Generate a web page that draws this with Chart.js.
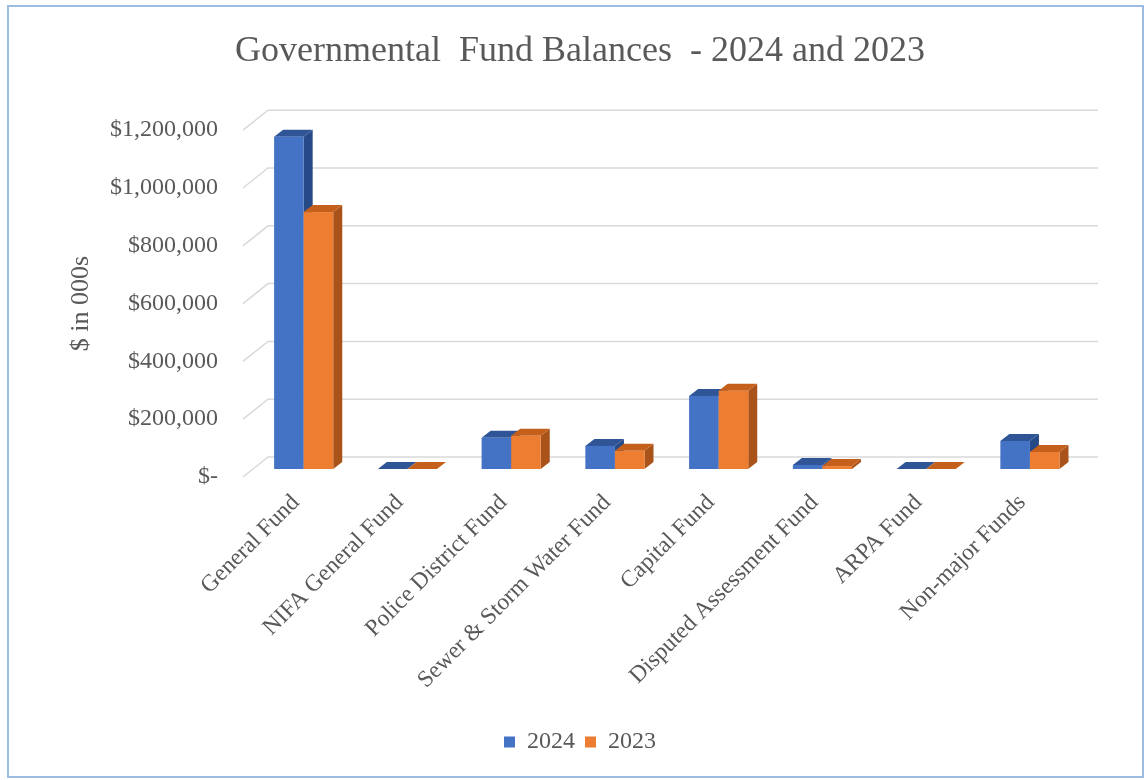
<!DOCTYPE html>
<html>
<head>
<meta charset="utf-8">
<script src="https://cdn.jsdelivr.net/npm/chart.js@4.4.1/dist/chart.umd.min.js"></script>
<style>
  body { margin: 0; background: #fff; }
  #wrap { position: relative; width: 1146px; height: 780px; }
  #frame {
    position: absolute; left: 7px; top: 5px; width: 1137px; height: 773px;
    box-sizing: border-box; border: 2px solid #9dbbe3; pointer-events: none;
  }
</style>
</head>
<body>
<div id="wrap">
  <canvas id="fundChart" width="1146" height="780"></canvas>
  <div id="frame"></div>
</div>
<script>
// chart data ($ in 000s)
const funds = [
    "General Fund",
    "NIFA General Fund",
    "Police District Fund",
    "Sewer & Storm Water Fund",
    "Capital Fund",
    "Disputed Assessment Fund",
    "ARPA Fund",
    "Non-major Funds",
];
const balances2024 = [1150000, 0, 108000, 80000, 253000, 14000, 0, 97000];
const balances2023 = [889000, 0, 115000, 63000, 271000, 10000, 0, 59000];
const yTicks = [0, 200000, 400000, 600000, 800000, 1000000, 1200000];

const textColor = "#595959";
const serif = "'Liberation Serif', 'Times New Roman', serif";

// colours for each face of the 3d bars
const faces = [
    { front: "#4472c4", top: "#2f5597", side: "#264a87" },
    { front: "#ed7d31", top: "#c5601c", side: "#a9531b" },
];

// offsets for the fake 3d look
const wallShift = { x: 27, y: -20 };
const barShift = { x: 10.8, y: -8 };
const barDepth = { x: 9, y: -7 };

const gridWall = {
    id: "gridWall",
    beforeDatasetsDraw(chart) {
        const ctx = chart.ctx;
        const area = chart.chartArea;
        const yScale = chart.scales.y;
        ctx.save();
        ctx.strokeStyle = "#d9d9d9";
        ctx.lineWidth = 1.5;
        yTicks.forEach(function (v) {
            const y = yScale.getPixelForValue(v);
            ctx.beginPath();
            ctx.moveTo(area.left + 2, y);
            ctx.lineTo(area.left + wallShift.x, y + wallShift.y);
            ctx.lineTo(area.right + wallShift.x, y + wallShift.y);
            ctx.stroke();
        });
        ctx.restore();
    },
    beforeDatasetDraw() {
        return false;
    },
    afterDatasetsDraw(chart) {
        const ctx = chart.ctx;
        const metas = chart.data.datasets.map(function (ds, i) {
            return chart.getDatasetMeta(i);
        });
        ctx.save();
        for (let i = 0; i < funds.length; i++) {
            metas.forEach(function (meta, d) {
                const bar = meta.data[i];
                const c = faces[d];
                const x0 = bar.x - bar.width / 2 + barShift.x;
                const x1 = bar.x + bar.width / 2 + barShift.x;
                const yTop = bar.y + barShift.y;
                const yBot = bar.base + barShift.y;

                // side
                ctx.fillStyle = c.side;
                ctx.beginPath();
                ctx.moveTo(x1, yTop);
                ctx.lineTo(x1 + barDepth.x, yTop + barDepth.y);
                ctx.lineTo(x1 + barDepth.x, yBot + barDepth.y);
                ctx.lineTo(x1, yBot);
                ctx.closePath();
                ctx.fill();

                // top
                ctx.fillStyle = c.top;
                ctx.beginPath();
                ctx.moveTo(x0, yTop);
                ctx.lineTo(x0 + barDepth.x, yTop + barDepth.y);
                ctx.lineTo(x1 + barDepth.x, yTop + barDepth.y);
                ctx.lineTo(x1, yTop);
                ctx.closePath();
                ctx.fill();

                // front
                ctx.fillStyle = c.front;
                ctx.fillRect(x0, yTop, x1 - x0, yBot - yTop);
            });
        }
        ctx.restore();
    },
};

const ctxEl = document.getElementById("fundChart");

new Chart(ctxEl, {
    type: "bar",
    data: {
        labels: funds,
        datasets: [
            {
                label: "2024",
                data: balances2024,
                backgroundColor: faces[0].front,
                categoryPercentage: 0.57,
                barPercentage: 1.0,
            },
            {
                label: "2023",
                data: balances2023,
                backgroundColor: faces[1].front,
                categoryPercentage: 0.57,
                barPercentage: 1.0,
            },
        ],
    },
    plugins: [gridWall],
    options: {
        responsive: false,
        animation: false,
        layout: { padding: { left: 14, right: 0, top: 0, bottom: 16 } },
        plugins: {
            title: {
                display: true,
                text: "Governmental  Fund Balances  - 2024 and 2023",
                color: textColor,
                font: { family: serif, size: 36, weight: "normal" },
                padding: { top: 30, bottom: 57 },
            },
            legend: {
                position: "bottom",
                labels: {
                    color: textColor,
                    font: { family: serif, size: 24 },
                    boxWidth: 11,
                    boxHeight: 11,
                    padding: 10,
                },
            },
            tooltip: { enabled: false },
        },
        scales: {
            x: {
                grid: { display: false, drawTicks: false },
                border: { display: false },
                ticks: {
                    color: textColor,
                    font: { family: serif, size: 23.5 },
                    maxRotation: 45,
                    minRotation: 45,
                    autoSkip: false,
                    padding: 12,
                    labelOffset: 3,
                },
                afterFit(scale) {
                    scale.height = 243;
                },
            },
            y: {
                min: 0,
                max: 1200000,
                grid: { display: false, drawTicks: false },
                border: { display: false },
                afterBuildTicks(scale) {
                    scale.ticks = yTicks.map(function (v) {
                        return { value: v };
                    });
                },
                ticks: {
                    color: textColor,
                    font: { family: serif, size: 24 },
                    padding: 23,
                    callback: function (value) {
                        return value === 0 ? "$-" : "$" + value.toLocaleString("en-US");
                    },
                },
                title: {
                    display: true,
                    text: "$ in 000s",
                    color: textColor,
                    font: { family: serif, size: 26 },
                    padding: { top: 52, bottom: 0 },
                },
                afterFit(scale) {
                    scale.width = 227;
                },
            },
            // empty axis on the right, only keeps room so title and legend stay centred
            yRight: {
                position: "right",
                display: true,
                grid: { display: false, drawTicks: false },
                border: { display: false },
                ticks: { display: false },
                afterFit(scale) {
                    scale.width = 75;
                },
            },
        },
    },
});
</script>
</body>
</html>
